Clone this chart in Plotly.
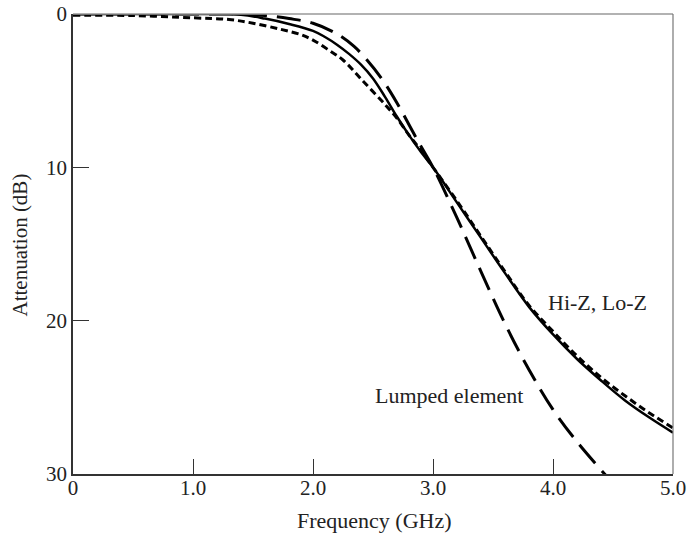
import plotly.graph_objects as go

# frequency (GHz) and attenuation (dB)
f_hiz = [0, 0.5, 1.0, 1.4, 1.6, 1.8, 2.0, 2.1, 2.2, 2.3, 2.4, 2.5, 2.6, 2.7, 2.8, 2.9, 3.0,
         3.2, 3.4, 3.6, 3.8, 4.0, 4.2, 4.4, 4.6, 4.8, 5.0]
att_hiz = [0, 0, 0, 0.05, 0.3, 0.65, 1.1, 1.5, 2.0, 2.6, 3.3, 4.2, 5.4, 6.7, 7.9, 9.0, 10.0,
           12.3, 14.6, 16.9, 19.1, 20.9, 22.5, 23.9, 25.2, 26.3, 27.3]

f_loz = [0, 0.5, 1.0, 1.3, 1.5, 1.73, 1.9, 2.0, 2.14, 2.25, 2.42, 2.6, 2.7, 2.8, 2.9, 3.0,
         3.2, 3.4, 3.6, 3.8, 4.0, 4.2, 4.4, 4.6, 4.8, 5.0]
att_loz = [0.08, 0.1, 0.25, 0.36, 0.6, 1.0, 1.35, 1.7, 2.4, 3.0, 4.4, 5.9, 6.8, 7.9, 8.9, 10.0,
           12.2, 14.5, 16.8, 19.0, 20.7, 22.3, 23.7, 24.9, 26.0, 27.0]

f_lumped = [0, 0.5, 1.0, 1.4, 1.6, 1.8, 2.0, 2.2, 2.34, 2.45, 2.58, 2.7, 2.84, 2.92, 3.0,
            3.2, 3.4, 3.6, 3.8, 4.0, 4.2, 4.43, 4.5]
att_lumped = [0, 0, 0, 0, 0.1, 0.3, 0.6, 1.3, 2.1, 3.0, 4.3, 5.8, 7.8, 8.9, 10.0,
              13.3, 16.8, 20.2, 23.2, 25.8, 27.9, 30.0, 30.6]

x_ticks = [0, 1, 2, 3, 4, 5]
x_labels = ['0', '1.0', '2.0', '3.0', '4.0', '5.0']
y_ticks = [0, 10, 20, 30]

font = 'Liberation Serif'
ink = '#222'

fig = go.Figure()
fig.add_trace(go.Scatter(x=f_loz, y=att_loz, mode='lines', line_shape='spline',
                         line=dict(color='black', width=3, dash='7px,4px')))
fig.add_trace(go.Scatter(x=f_lumped, y=att_lumped, mode='lines', line_shape='spline',
                         line=dict(color='black', width=3, dash='24px,10px')))
fig.add_trace(go.Scatter(x=f_hiz, y=att_hiz, mode='lines', line_shape='spline',
                         line=dict(color='black', width=2.5)))

fig.add_annotation(x=4.37, y=18.8, text='Hi-Z, Lo-Z', showarrow=False,
                   font=dict(family=font, size=22, color=ink))
fig.add_annotation(x=3.13, y=24.9, text='Lumped element', showarrow=False,
                   font=dict(family=font, size=22, color=ink))

# axis titles
fig.add_annotation(xref='paper', yref='paper', x=0.5025, y=-0.102,
                   xanchor='center', yanchor='middle',
                   text='Frequency (GHz)', showarrow=False,
                   font=dict(family=font, size=22, color=ink))
fig.add_annotation(xref='paper', yref='paper', x=-0.089, y=0.498, textangle=-90,
                   xanchor='center', yanchor='middle',
                   text='Attenuation (dB)', showarrow=False,
                   font=dict(family=font, size=21, color=ink))

# light top/right border
fig.add_shape(type='line', xref='paper', yref='paper', x0=0, x1=1, y0=1, y1=1,
              line=dict(color='#999', width=1.5))
fig.add_shape(type='line', xref='paper', yref='paper', x0=1, x1=1, y0=0, y1=1,
              line=dict(color='#777', width=1.2))

fig.update_layout(
    width=691, height=538,
    margin=dict(l=73, r=18, t=14, b=64),
    paper_bgcolor='white', plot_bgcolor='white',
    showlegend=False,
    font=dict(family=font, size=21, color=ink),
    xaxis=dict(range=[0, 5], tickvals=x_ticks, ticktext=x_labels,
               showgrid=False, zeroline=False, automargin=False,
               showline=True, linecolor='#333', linewidth=1.5,
               ticks='inside', ticklen=15, tickcolor='#333', tickwidth=1.2,
               ticklabelstandoff=-6, ticklabeloverflow='allow'),
    yaxis=dict(range=[30, 0], tickvals=y_ticks,
               showgrid=False, zeroline=False, automargin=False,
               showline=True, linecolor='#333', linewidth=1.5,
               ticks='inside', ticklen=16, tickcolor='#333', tickwidth=1.2,
               ticklabeloverflow='allow'),
)

# drop the default body margin so the figure fills the window exactly
fig.write_html('out.html', config={'displayModeBar': False},
               post_script="document.body.style.margin='0';")
